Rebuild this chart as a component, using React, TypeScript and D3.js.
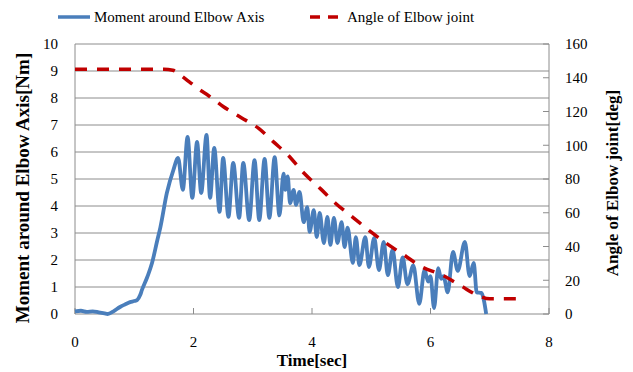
import * as d3 from "d3";

// Time axis and tick labels
const timeTicks = [0, 2, 4, 6, 8];
const momentTicks = [0, 1, 2, 3, 4, 5, 6, 7, 8, 9, 10];
const angleTicks = [0, 20, 40, 60, 80, 100, 120, 140, 160];

// Moment around elbow axis [Nm]
const momentTime = [
  0, 0.1, 0.2, 0.3, 0.4, 0.5, 0.55, 0.65, 0.76, 0.85, 0.93, 1.0, 1.05, 1.1, 1.13, 1.22, 1.3, 1.39,
  1.44, 1.55, 1.66, 1.74, 1.82, 1.9, 1.98, 2.06, 2.13, 2.22, 2.28, 2.35, 2.44, 2.5, 2.59, 2.67,
  2.77, 2.84, 2.94, 3.03, 3.11, 3.2, 3.28, 3.37, 3.45, 3.52, 3.55, 3.59, 3.63, 3.69, 3.73, 3.79,
  3.86, 3.92, 3.96, 4.03, 4.08, 4.13, 4.2, 4.26, 4.31, 4.37, 4.43, 4.5, 4.55, 4.6, 4.69, 4.74,
  4.8, 4.9, 4.96, 5.05, 5.13, 5.21, 5.28, 5.36, 5.45, 5.53, 5.61, 5.71, 5.81, 5.9, 5.96, 6.0,
  6.06, 6.13, 6.18, 6.22, 6.29, 6.38, 6.46, 6.58, 6.66, 6.73, 6.78, 6.86, 6.9, 6.94,
];
const momentValue = [
  0.1, 0.12, 0.08, 0.1, 0.06, 0.02, 0.0, 0.1, 0.26, 0.36, 0.44, 0.48, 0.52, 0.7, 0.89, 1.37, 1.89, 2.74,
  3.2, 4.48, 5.33, 5.78, 4.6, 6.56, 4.3, 6.37, 4.48, 6.63, 4.3, 6.15, 3.78, 5.78, 3.6, 5.6,
  3.56, 5.6, 3.48, 5.7, 3.48, 5.74, 3.56, 5.81, 3.65, 5.2, 4.6, 5.1, 4.1, 4.6, 4.04, 4.52,
  3.4, 3.96, 3.04, 3.85, 2.85, 3.74, 2.63, 3.6, 2.56, 3.56, 2.63, 3.4, 2.48, 3.2, 1.89, 2.85,
  1.81, 2.85, 1.74, 2.82, 1.63, 2.67, 1.44, 2.37, 1.0, 2.1, 1.1, 1.8, 0.38, 1.63, 1.2, 1.4,
  0.22, 1.7, 1.3, 1.4, 0.8, 2.3, 1.6, 2.67, 1.4, 1.89, 0.8, 0.78, 0.52, 0.0,
];

// Angle of elbow joint [deg]
const angleTime = [
  0, 0.5, 1.0, 1.5, 1.65, 1.8, 1.95, 2.1, 2.25, 2.5, 2.8, 3.1, 3.35, 3.6, 3.85, 4.15, 4.4, 4.7,
  5.0, 5.25, 5.55, 5.85, 6.2, 6.5, 6.8, 7.0, 7.55,
];
const angleValue = [
  145, 145, 145, 145, 144.5, 141, 137, 133, 129.5, 123, 116.5, 110, 102, 94, 84, 74, 65.5, 57,
  48.5, 42, 35, 28, 23, 17, 11, 9, 9,
];

const W = 633;
const H = 372;
const margin = { top: 44, right: 84, bottom: 58, left: 75 };
const font = "Liberation Serif, Times New Roman, serif";
const gridColor = "#8c8c8c";

export default function App() {
  const x = d3.scaleLinear().domain([0, 8]).range([margin.left, W - margin.right]);
  const y = d3.scaleLinear().domain([0, 10]).range([H - margin.bottom, margin.top]);
  const y2 = d3.scaleLinear().domain([0, 160]).range([H - margin.bottom, margin.top]);

  const moment = momentTime.map((t, i) => [t, momentValue[i]] as [number, number]);
  const angle = angleTime.map((t, i) => [t, angleValue[i]] as [number, number]);

  const momentLine = d3
    .line<[number, number]>()
    .x((d) => x(d[0]))
    .y((d) => y(d[1]))
    .curve(d3.curveMonotoneX);
  const angleLine = d3
    .line<[number, number]>()
    .x((d) => x(d[0]))
    .y((d) => y2(d[1]))
    .curve(d3.curveMonotoneX);

  const x0 = x(0);
  const x1 = x(8);
  const yb = y(0);
  const yt = y(10);
  const txt = { fontFamily: font, fill: "#000" };

  return (
    <svg
      width={W}
      height={H}
      style={{ position: "absolute", left: 0, top: 0, background: "#fff", fontFamily: font }}
    >
      {/* horizontal grid */}
      {momentTicks.map((t) => (
        <line key={"g" + t} x1={x0} x2={x1} y1={y(t)} y2={y(t)} stroke={gridColor} strokeWidth={1} />
      ))}
      {/* frame */}
      <line x1={x0} x2={x0} y1={yt} y2={yb} stroke={gridColor} />
      <line x1={x1} x2={x1} y1={yt} y2={yb} stroke={gridColor} />
      {/* bottom ticks */}
      {timeTicks.map((t) => (
        <line key={"xt" + t} x1={x(t)} x2={x(t)} y1={yb} y2={yb - 6} stroke={gridColor} />
      ))}
      {/* right ticks */}
      {angleTicks.map((t) => (
        <line key={"rt" + t} x1={x1} x2={x1 - 6} y1={y2(t)} y2={y2(t)} stroke={gridColor} />
      ))}

      {/* series */}
      <path d={momentLine(moment) ?? ""} fill="none" stroke="#4a7ebb" strokeWidth={3.8} strokeLinejoin="round" />
      <path
        d={angleLine(angle) ?? ""}
        fill="none"
        stroke="#c00000"
        strokeWidth={3.5}
        strokeDasharray="12,10"
      />

      {/* left tick labels */}
      {momentTicks.map((t) => (
        <text key={"yl" + t} x={x0 - 17} y={y(t)} dy="0.35em" textAnchor="end" fontSize={15} style={txt}>
          {t}
        </text>
      ))}
      {/* right tick labels */}
      {angleTicks.map((t) => (
        <text key={"y2l" + t} x={x1 + 16} y={y2(t)} dy="0.35em" textAnchor="start" fontSize={15} style={txt}>
          {t}
        </text>
      ))}
      {/* bottom tick labels */}
      {timeTicks.map((t) => (
        <text key={"xl" + t} x={x(t)} y={347} textAnchor="middle" fontSize={15} style={txt}>
          {t}
        </text>
      ))}

      {/* axis titles */}
      <text x={(x0 + x1) / 2} y={366} textAnchor="middle" fontSize={17} fontWeight="bold" style={txt}>
        Time[sec]
      </text>
      <text
        transform={`translate(29,188) rotate(-90)`}
        textAnchor="middle"
        fontSize={19}
        fontWeight="bold"
        style={txt}
      >
        Moment around Elbow Axis[Nm]
      </text>
      <text
        transform={`translate(618,183) rotate(-90)`}
        textAnchor="middle"
        fontSize={17}
        fontWeight="bold"
        style={txt}
      >
        Angle of Elbow joint[deg]
      </text>

      {/* legend */}
      <line x1={58} x2={90} y1={17} y2={17} stroke="#4a7ebb" strokeWidth={3.5} />
      <text x={94} y={22} fontSize={15} style={txt}>
        Moment around Elbow Axis
      </text>
      <line x1={310} x2={341} y1={17} y2={17} stroke="#c00000" strokeWidth={3.5} strokeDasharray="10,8" />
      <text x={347} y={22} fontSize={15} style={txt}>
        Angle of Elbow joint
      </text>
    </svg>
  );
}
